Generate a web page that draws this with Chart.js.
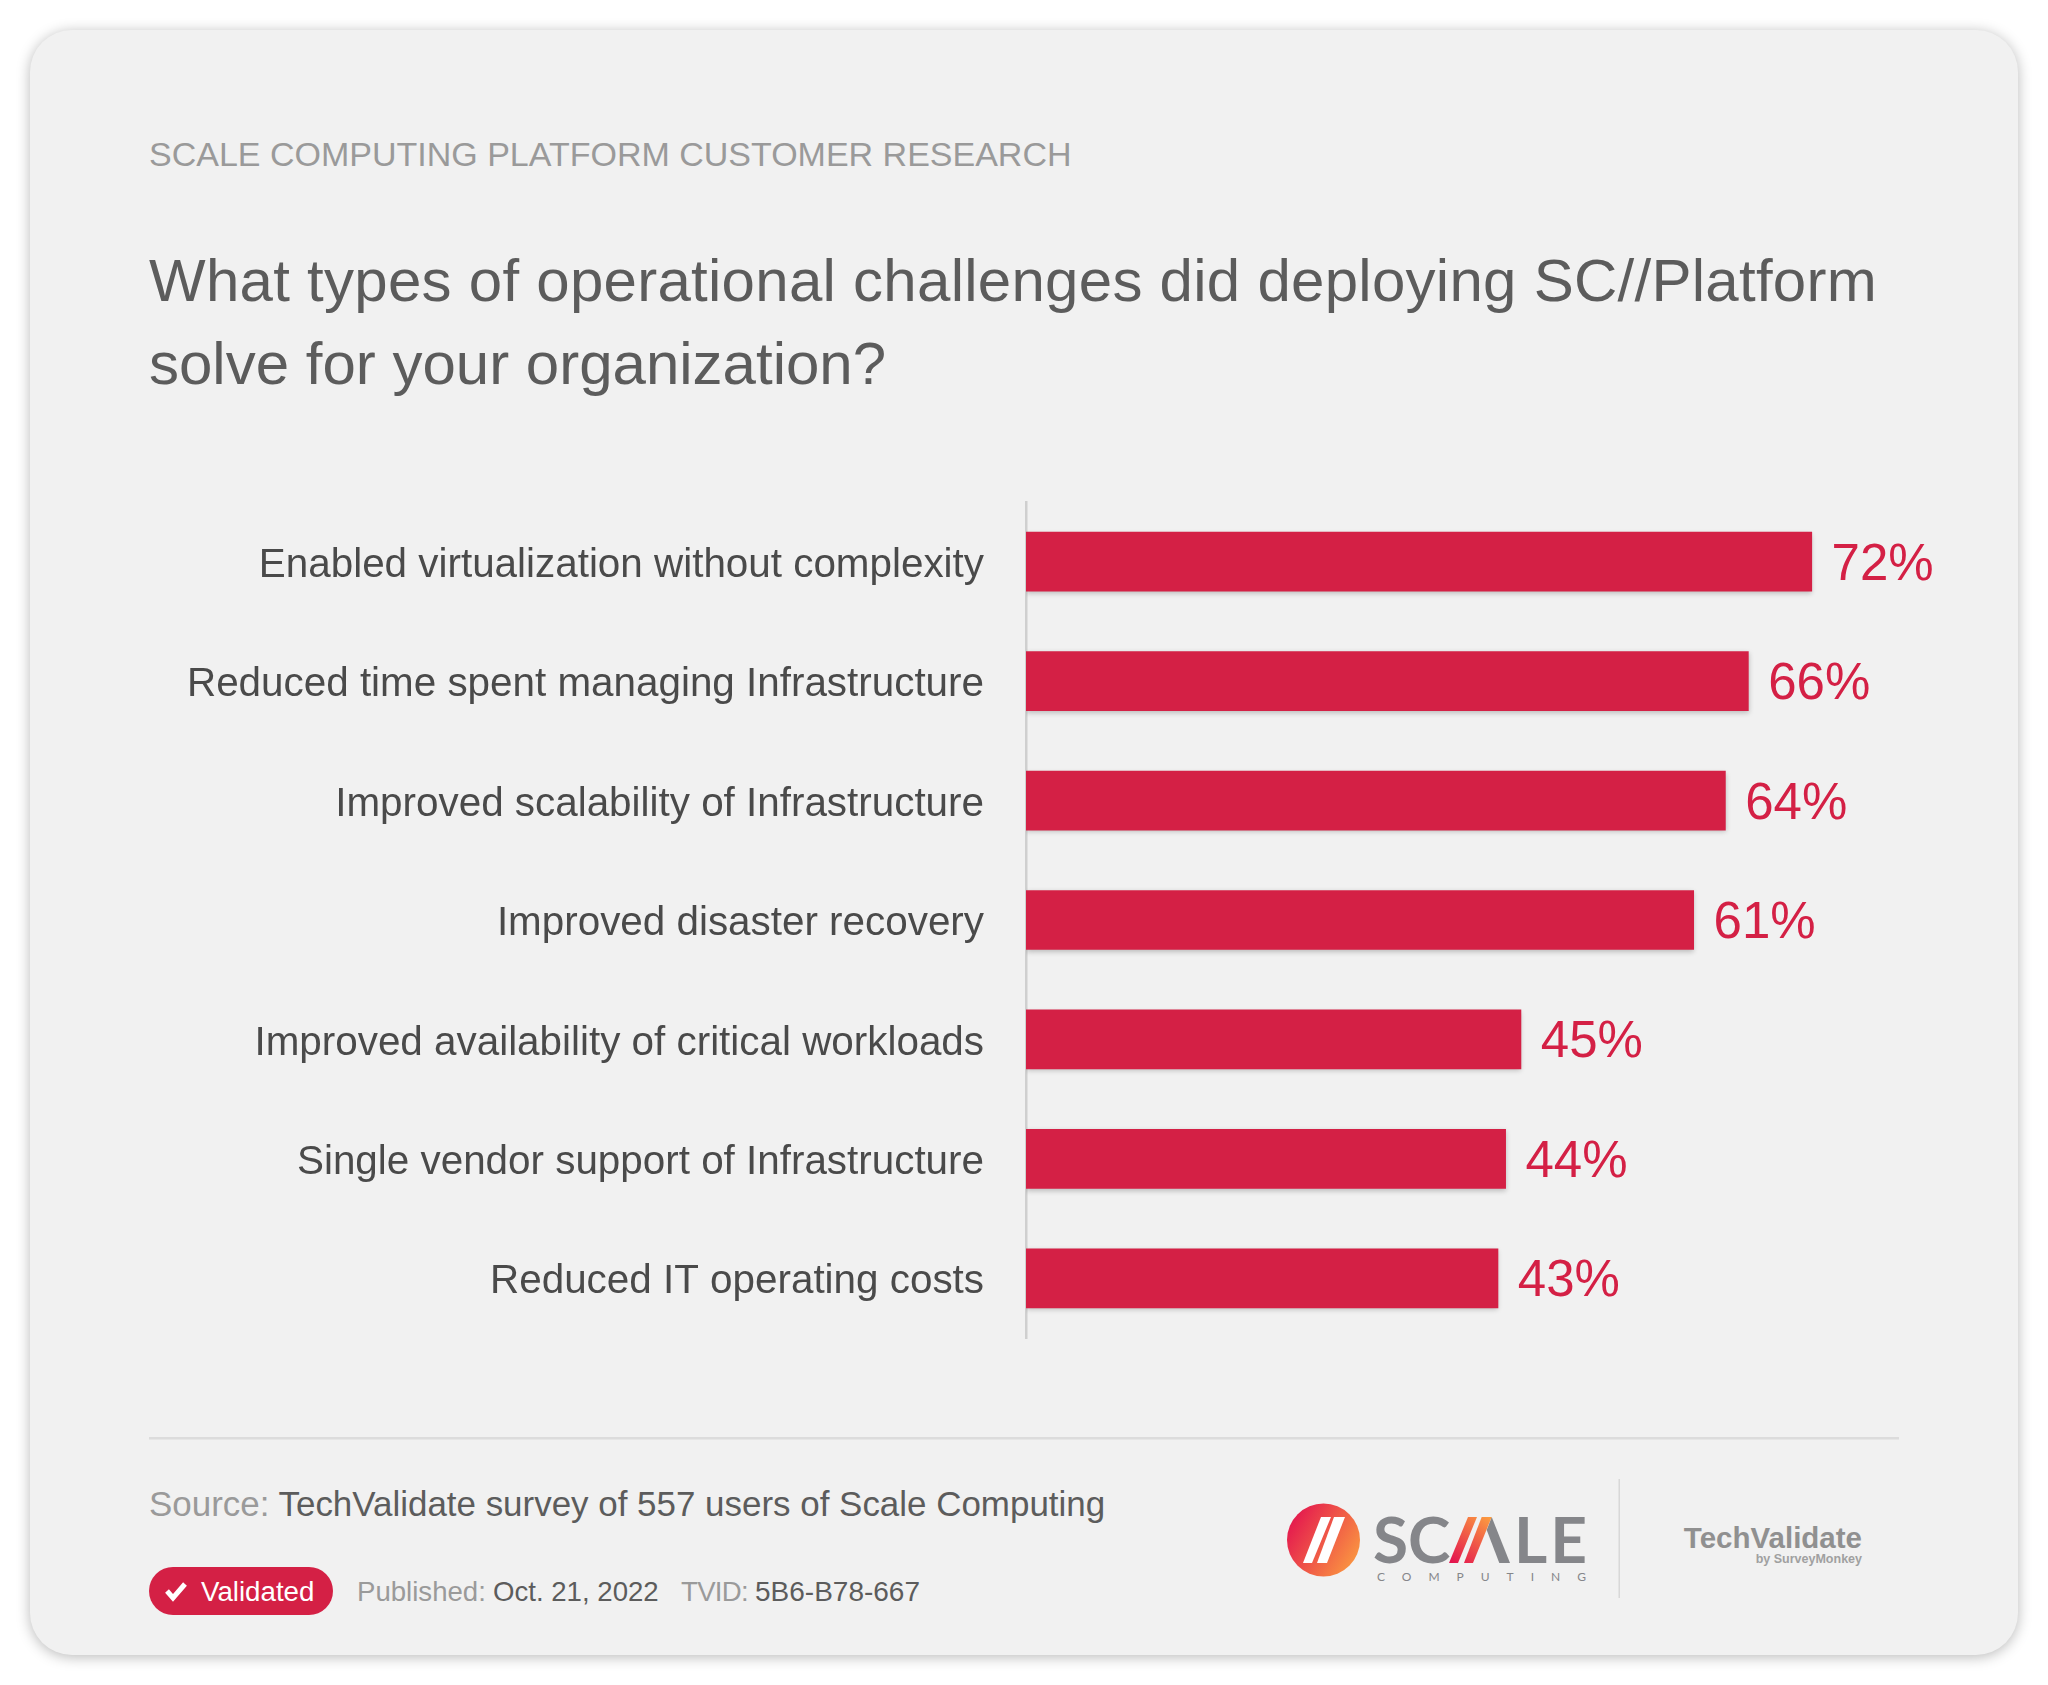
<!DOCTYPE html>
<html>
<head>
<meta charset="utf-8">
<style>
  html, body { margin: 0; padding: 0; background: #fff; }
  body { width: 2048px; height: 1685px; position: relative; overflow: hidden; font-family: "Liberation Sans", Arial, sans-serif; }
  #card { position: absolute; left: 30px; top: 30px; width: 1988px; height: 1625px; background: #f1f1f1; border-radius: 42px; box-shadow: 0 2px 14px rgba(0,0,0,0.28); }
  #overlay, #heroChart { position: absolute; left: 0; top: 0; }
</style>
<script src="https://cdn.jsdelivr.net/npm/chart.js@4/dist/chart.umd.min.js"></script>
</head>
<body>
<div id="card"></div>
<svg id="overlay" width="2048" height="1685" viewBox="0 0 2048 1685" font-family="Liberation Sans, Arial, sans-serif">
  <defs>
    <linearGradient id="logoGrad" x1="0" y1="0.2" x2="1" y2="0.8">
      <stop offset="0" stop-color="#e3134f"/>
      <stop offset="1" stop-color="#fb9a40"/>
    </linearGradient>
    <linearGradient id="slashGrad" gradientUnits="userSpaceOnUse" x1="1452" y1="1563" x2="1488" y2="1517">
      <stop offset="0" stop-color="#e3134f"/>
      <stop offset="1" stop-color="#fb9a40"/>
    </linearGradient>
  </defs>

  <text x="149" y="165.5" font-size="34" fill="#9a9a9a">SCALE COMPUTING PLATFORM CUSTOMER RESEARCH</text>
  <text x="149" y="301" font-size="60" letter-spacing="0.27" fill="#5c5c5c">What types of operational challenges did deploying SC//Platform</text>
  <text x="149" y="384" font-size="60" fill="#5c5c5c">solve for your organization?</text>

  <rect x="149" y="1437" width="1750" height="2.5" fill="#dcdcdc"/>

  <text x="149" y="1516" font-size="34.95" fill="#9a9a9a">Source: <tspan fill="#5c5c5c">TechValidate survey of 557 users of Scale Computing</tspan></text>

  <rect x="149" y="1567" width="184" height="48" rx="24" fill="#d42045"/>
  <path d="M167 1591 l6 7 l12 -14" fill="none" stroke="#fff" stroke-width="5"/>
  <text x="201" y="1601" font-size="27.7" fill="#fff">Validated</text>
  <text x="357" y="1601" font-size="27.6" fill="#9a9a9a">Published:</text>
  <text x="493" y="1601" font-size="27.6" fill="#5c5c5c">Oct. 21, 2022</text>
  <text x="681" y="1601" font-size="27.6" letter-spacing="-0.7" fill="#9a9a9a">TVID:</text>
  <text x="755" y="1601" font-size="28" fill="#5c5c5c">5B6-B78-667</text>

  <!-- scale computing logo -->
  <circle cx="1323.5" cy="1540" r="36.5" fill="url(#logoGrad)"/>
  <polygon points="1303,1563 1312,1563 1331,1517 1321,1517" fill="#fff"/>
  <polygon points="1317,1563 1327,1563 1345,1517 1334,1517" fill="#fff"/>
  <text x="1373" y="1563" font-size="64" font-weight="bold" font-family="Lato" fill="#85868a">SC</text>
  <polygon points="1491.7,1517 1510,1563 1499.3,1563 1486.7,1530" fill="#85868a"/>
  <polygon points="1449,1563 1458,1563 1477,1517 1468,1517" fill="url(#slashGrad)"/>
  <polygon points="1464,1563 1473,1563 1491.7,1517 1481.7,1517" fill="url(#slashGrad)"/>
  <text x="1514" y="1563" font-size="64" font-weight="bold" font-family="Lato" letter-spacing="3" fill="#85868a">LE</text>
  <text x="1377" y="1581" font-size="12" font-family="Lato" fill="#85868a" textLength="209">COMPUTING</text>

  <rect x="1618.5" y="1479" width="1.5" height="119" fill="#d8d8d8"/>
  <text x="1862" y="1548" font-size="29.5" font-weight="bold" text-anchor="end" fill="#909090">TechValidate</text>
  <text x="1862" y="1563" font-size="12.5" font-weight="bold" text-anchor="end" fill="#a0a0a0">by SurveyMonkey</text>
</svg>
<canvas id="heroChart" width="2048" height="1685"></canvas>

<script>
const categories = [
  'Enabled virtualization without complexity',
  'Reduced time spent managing Infrastructure',
  'Improved scalability of Infrastructure',
  'Improved disaster recovery',
  'Improved availability of critical workloads',
  'Single vendor support of Infrastructure',
  'Reduced IT operating costs'
];
// bar lengths, printed labels are rounded
const barValues = [71.9, 66.1, 64, 61.1, 45.3, 43.9, 43.2];
const percentLabels = ['72%', '66%', '64%', '61%', '45%', '44%', '43%'];

const barColor = '#d42045';
const labelColor = '#4a4a4a';

// soft shadow under the bars
const barShadow = {
  id: 'barShadow',
  beforeDatasetsDraw(chart) {
    const ctx = chart.ctx;
    ctx.save();
    ctx.shadowColor = 'rgba(0,0,0,0.22)';
    ctx.shadowBlur = 5;
    ctx.shadowOffsetY = 2;
  },
  afterDatasetsDraw(chart) {
    chart.ctx.restore();
  }
};

// percent text at the end of each bar
const valueLabels = {
  id: 'valueLabels',
  afterDatasetsDraw(chart) {
    const ctx = chart.ctx;
    const bars = chart.getDatasetMeta(0).data;
    ctx.save();
    ctx.font = '51px "Liberation Sans", Arial, sans-serif';
    ctx.fillStyle = barColor;
    ctx.textAlign = 'left';
    ctx.textBaseline = 'alphabetic';
    bars.forEach((bar, i) => {
      ctx.fillText(percentLabels[i], bar.x + 19.5, bar.y + 18);
    });
    ctx.restore();
  }
};

new Chart(document.getElementById('heroChart'), {
  type: 'bar',
  data: {
    labels: categories,
    datasets: [{
      data: barValues,
      backgroundColor: barColor,
      borderWidth: 0,
      barPercentage: 0.5,
      categoryPercentage: 1
    }]
  },
  options: {
    indexAxis: 'y',
    responsive: false,
    animation: false,
    devicePixelRatio: 1,
    layout: { padding: { left: 0, top: 502, right: 38, bottom: 347 } },
    plugins: {
      legend: { display: false },
      tooltip: { enabled: false }
    },
    scales: {
      x: { display: false, min: 0, max: 90 },
      y: {
        afterFit(scale) { scale.width = 1026; },
        grid: { display: false, drawTicks: false },
        border: { display: true, color: '#cfcfcf', width: 2.5 },
        ticks: {
          autoSkip: false,
          padding: 42,
          labelOffset: 4,
          color: labelColor,
          font: { family: '"Liberation Sans", Arial, sans-serif', size: 40.4 }
        }
      }
    }
  },
  plugins: [barShadow, valueLabels]
});
</script>
</body>
</html>
